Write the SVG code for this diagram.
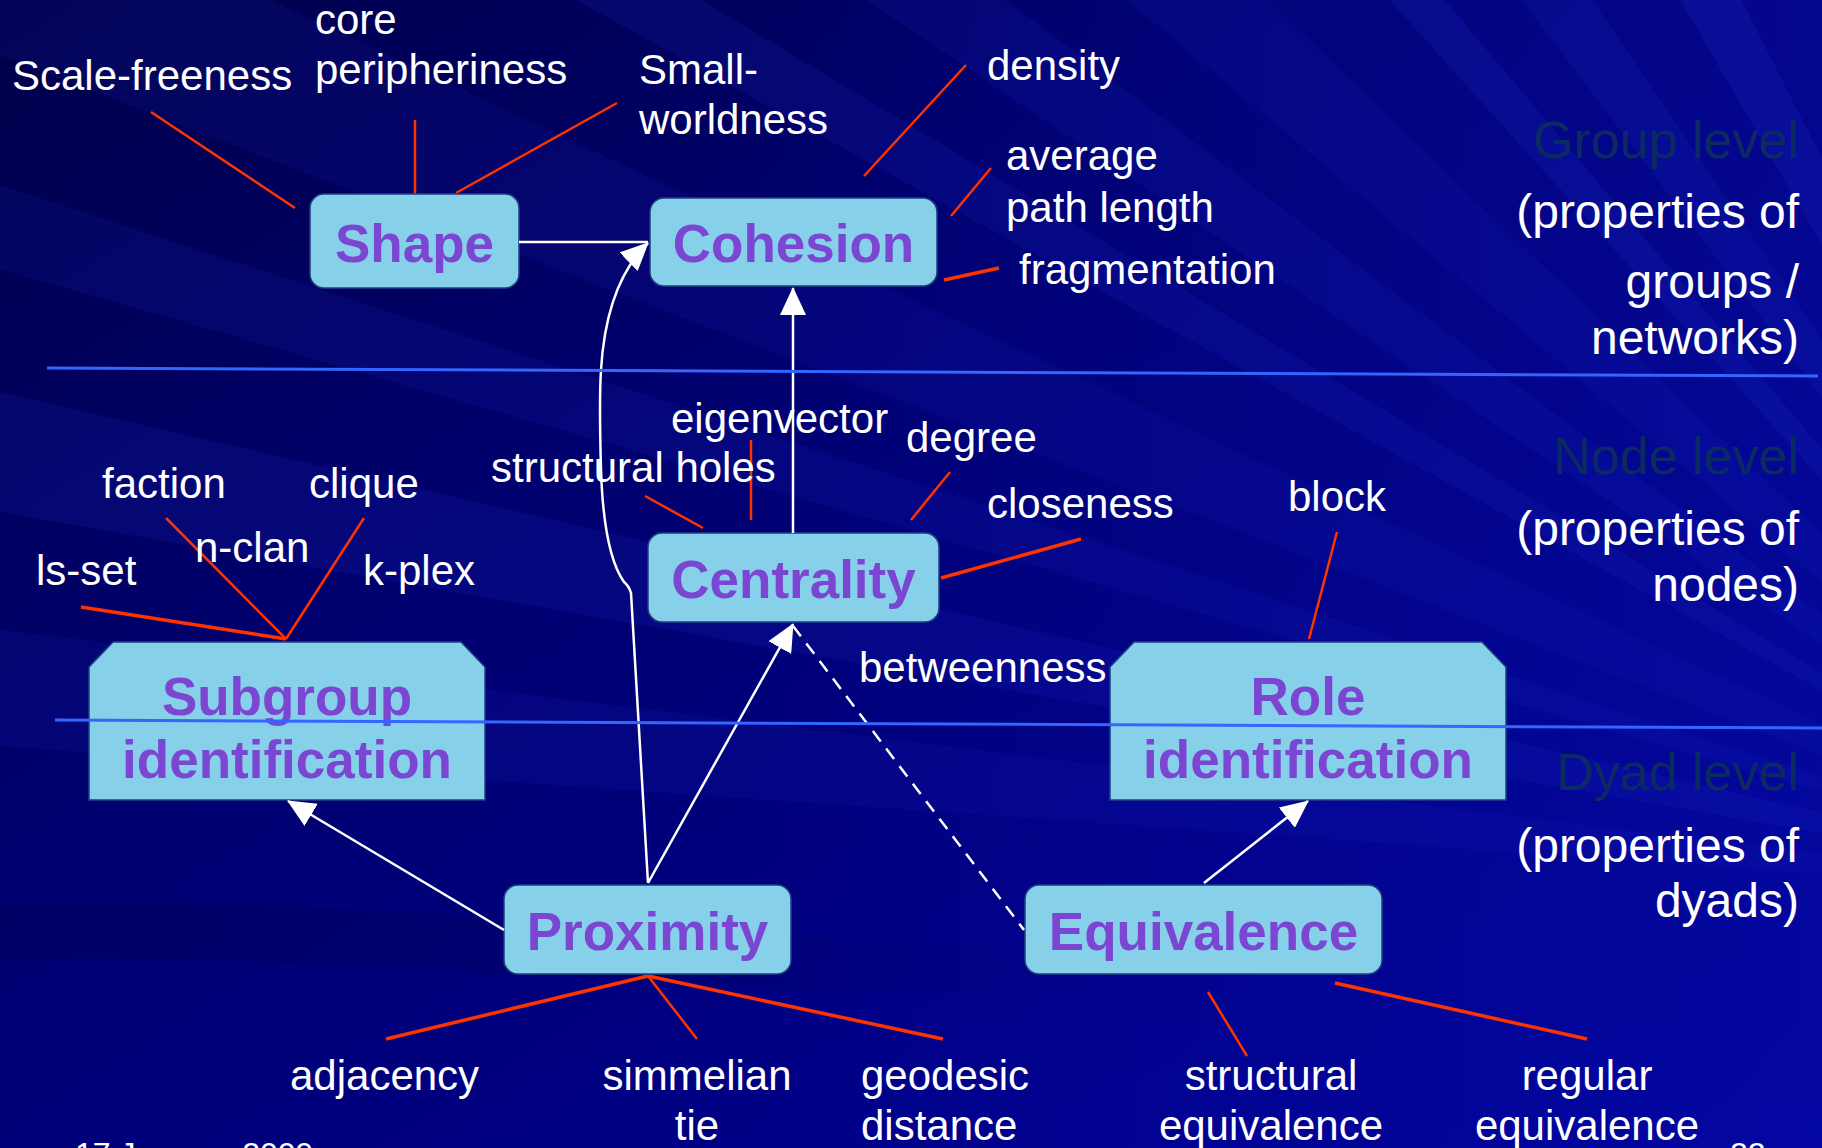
<svg xmlns="http://www.w3.org/2000/svg" width="1822" height="1148" viewBox="0 0 1822 1148">
  <defs>
    <linearGradient id="bgBase" x1="0" y1="0" x2="1" y2="1">
      <stop offset="0" stop-color="#00004a"/>
      <stop offset="0.35" stop-color="#00006e"/>
      <stop offset="0.7" stop-color="#000086"/>
      <stop offset="1" stop-color="#00009a"/>
    </linearGradient>
    <linearGradient id="bgRight" x1="0" y1="0" x2="1" y2="0">
      <stop offset="0.4" stop-color="#0a14b0" stop-opacity="0"/>
      <stop offset="1" stop-color="#0a14b0" stop-opacity="0.35"/>
    </linearGradient>
    <linearGradient id="bandFade" x1="0" y1="0" x2="1" y2="0">
      <stop offset="0" stop-color="#000058" stop-opacity="0.45"/>
      <stop offset="0.6" stop-color="#000058" stop-opacity="0.25"/>
      <stop offset="1" stop-color="#000058" stop-opacity="0"/>
    </linearGradient>
    <marker id="arrow" markerUnits="userSpaceOnUse" markerWidth="28" markerHeight="26" viewBox="0 0 28 26" refX="27" refY="13" orient="auto">
      <path d="M0,0 L28,13 L0,26 z" fill="#ffffff"/>
    </marker>
    <style>
      .box { fill: #87d0ea; stroke: #1f3f85; stroke-width: 1.5; }
      .node-text { font-family: "Liberation Sans", Arial, sans-serif; font-weight: bold; font-size: 53px; fill: #7a46d2; text-anchor: middle; }
      .lbl { font-family: "Liberation Sans", Arial, sans-serif; font-size: 42px; fill: #ffffff; }
      .mid { text-anchor: middle; }
      .lvl { font-family: "Liberation Sans", Arial, sans-serif; font-size: 48px; fill: #ffffff; text-anchor: end; }
      .lvl-title { font-family: "Liberation Sans", Arial, sans-serif; font-size: 52px; fill: #0c2a62; text-anchor: end; }
      .foot { font-family: "Liberation Sans", Arial, sans-serif; font-size: 32px; fill: #ffffff; }
      .tick { stroke: #ff3300; stroke-width: 2.5; fill: none; }
      .tick.thick { stroke-width: 3.5; }
      .link { stroke: #ffffff; stroke-width: 2.5; fill: none; }
      .dashed { stroke-dasharray: 13 9; }
      .divider { stroke: #3366ff; stroke-width: 3; }
      .ray { fill: #2535d8; }
    </style>
  </defs>

  <!-- background: navy gradient with a fan of soft rays from the lower right -->
  <rect width="1822" height="1148" fill="url(#bgBase)"/>
  <rect width="1822" height="1148" fill="url(#bgRight)"/>
  <g class="ray">
    <polygon points="2200,900 -793,691 -778,534" opacity="0.10"/>
    <polygon points="2200,900 -754,379 -723,225" opacity="0.14"/>
    <polygon points="2200,900 -684,73 -653,-27" opacity="0.12"/>
    <polygon points="2200,900 -601,-175 -519,-368" opacity="0.10"/>
    <polygon points="2200,900 -424,-554 -372,-645" opacity="0.14"/>
    <polygon points="2200,900 -287,-778 -196,-906" opacity="0.12"/>
    <polygon points="2200,900 -98,-1028 42,-1184" opacity="0.10"/>
    <polygon points="2200,900 193,-1329 272,-1398" opacity="0.16"/>
    <polygon points="2200,900 395,-1496 522,-1587" opacity="0.14"/>
    <polygon points="2200,900 700,-1698 838,-1773" opacity="0.16"/>
  </g>
  <path d="M0,905 C300,890 700,940 1100,950 L1100,1000 C700,995 300,950 0,960 z" fill="url(#bandFade)"/>

  <!-- level captions on the right -->
  <g id="levels">
    <text class="lvl-title" x="1799" y="158">Group level</text>
    <text class="lvl" x="1799" y="228">(properties of</text>
    <text class="lvl" x="1799" y="298">groups /</text>
    <text class="lvl" x="1799" y="354">networks)</text>
    <text class="lvl-title" x="1799" y="474">Node level</text>
    <text class="lvl" x="1799" y="545">(properties of</text>
    <text class="lvl" x="1799" y="601">nodes)</text>
    <text class="lvl-title" x="1799" y="790">Dyad level</text>
    <text class="lvl" x="1799" y="862">(properties of</text>
    <text class="lvl" x="1799" y="917">dyads)</text>
  </g>

  <!-- red ticks tying each measure to its concept -->
  <g id="measure-ticks">
    <line class="tick" x1="151" y1="112" x2="295" y2="208"/>
    <line class="tick" x1="415" y1="120" x2="415" y2="195"/>
    <line class="tick" x1="617" y1="103" x2="456" y2="193"/>
    <line class="tick" x1="966" y1="65" x2="864" y2="176"/>
    <line class="tick" x1="991" y1="168" x2="951" y2="216"/>
    <line class="tick thick" x1="999" y1="268" x2="944" y2="280"/>
    <line class="tick" x1="645" y1="496" x2="703" y2="528"/>
    <line class="tick" x1="751" y1="440" x2="751" y2="520"/>
    <line class="tick" x1="950" y1="472" x2="911" y2="520"/>
    <line class="tick thick" x1="1081" y1="539" x2="941" y2="578"/>
    <line class="tick" x1="1337" y1="532" x2="1309" y2="639"/>
    <line class="tick thick" x1="81" y1="607" x2="286" y2="639"/>
    <line class="tick" x1="166" y1="518" x2="286" y2="639"/>
    <line class="tick" x1="364" y1="518" x2="286" y2="639"/>
    <line class="tick thick" x1="386" y1="1039" x2="648" y2="976"/>
    <line class="tick" x1="697" y1="1039" x2="648" y2="976"/>
    <line class="tick thick" x1="943" y1="1039" x2="648" y2="976"/>
    <line class="tick" x1="1208" y1="992" x2="1247" y2="1056"/>
    <line class="tick thick" x1="1335" y1="983" x2="1587" y2="1039"/>
  </g>

  <!-- measure labels -->
  <g id="measures">
    <text class="lbl" x="12" y="90">Scale-freeness</text>
    <text class="lbl" x="315" y="34">core</text>
    <text class="lbl" x="315" y="84">peripheriness</text>
    <text class="lbl" x="639" y="84">Small-</text>
    <text class="lbl" x="639" y="134">worldness</text>
    <text class="lbl" x="987" y="80">density</text>
    <text class="lbl" x="1006" y="170">average</text>
    <text class="lbl" x="1006" y="222">path length</text>
    <text class="lbl" x="1019" y="284">fragmentation</text>
    <text class="lbl" x="671" y="433">eigenvector</text>
    <text class="lbl" x="491" y="482">structural holes</text>
    <text class="lbl" x="906" y="452">degree</text>
    <text class="lbl" x="987" y="518">closeness</text>
    <text class="lbl" x="859" y="682">betweenness</text>
    <text class="lbl" x="1288" y="511">block</text>
    <text class="lbl" x="102" y="498">faction</text>
    <text class="lbl" x="309" y="498">clique</text>
    <text class="lbl" x="195" y="562">n-clan</text>
    <text class="lbl" x="36" y="585">ls-set</text>
    <text class="lbl" x="363" y="585">k-plex</text>
    <text class="lbl" x="290" y="1090">adjacency</text>
    <text class="lbl mid" x="697" y="1090">simmelian</text>
    <text class="lbl mid" x="697" y="1140">tie</text>
    <text class="lbl" x="861" y="1090">geodesic</text>
    <text class="lbl" x="861" y="1140">distance</text>
    <text class="lbl mid" x="1271" y="1090">structural</text>
    <text class="lbl mid" x="1271" y="1140">equivalence</text>
    <text class="lbl mid" x="1587" y="1090">regular</text>
    <text class="lbl mid" x="1587" y="1140">equivalence</text>
  </g>

  <!-- concept nodes -->
  <g id="node-shape">
    <rect class="box" x="310" y="194" width="209" height="94" rx="14"/>
    <text class="node-text" x="414.5" y="262">Shape</text>
  </g>
  <g id="node-cohesion">
    <rect class="box" x="650" y="198" width="287" height="88" rx="14"/>
    <text class="node-text" x="793.5" y="262">Cohesion</text>
  </g>
  <g id="node-centrality">
    <rect class="box" x="648" y="533" width="291" height="89" rx="14"/>
    <text class="node-text" x="793.5" y="598">Centrality</text>
  </g>
  <g id="node-subgroup">
    <polygon class="box" points="89,667 113,642 461,642 485,667 485,800 89,800"/>
    <text class="node-text" x="287" y="715">Subgroup</text>
    <text class="node-text" x="287" y="778">identification</text>
  </g>
  <g id="node-role">
    <polygon class="box" points="1110,667 1134,642 1482,642 1506,667 1506,800 1110,800"/>
    <text class="node-text" x="1308" y="715">Role</text>
    <text class="node-text" x="1308" y="778">identification</text>
  </g>
  <g id="node-proximity">
    <rect class="box" x="504" y="885" width="287" height="89" rx="14"/>
    <text class="node-text" x="647.5" y="950">Proximity</text>
  </g>
  <g id="node-equivalence">
    <rect class="box" x="1025" y="885" width="357" height="89" rx="14"/>
    <text class="node-text" x="1203.5" y="950">Equivalence</text>
  </g>

  <!-- connectors between concepts -->
  <g id="connectors">
    <line class="link" x1="519" y1="242" x2="648" y2="242"/>
    <path class="link" d="M648,883 L631,593 Q629,586 624,582 C612,565 603,530 601,470 C600,430 599,400 601,370 C604,320 616,274 648,243" marker-end="url(#arrow)"/>
    <line class="link" x1="793" y1="533" x2="793" y2="288" marker-end="url(#arrow)"/>
    <line class="link" x1="648" y1="883" x2="793" y2="624" marker-end="url(#arrow)"/>
    <line class="link dashed" x1="793" y1="626" x2="1024" y2="930"/>
    <line class="link" x1="504" y1="930" x2="288" y2="801" marker-end="url(#arrow)"/>
    <line class="link" x1="1204" y1="883" x2="1308" y2="801" marker-end="url(#arrow)"/>
  </g>

  <!-- level dividers -->
  <g id="dividers">
    <line class="divider" x1="47" y1="368" x2="1818" y2="376"/>
    <line class="divider" x1="55" y1="720" x2="1822" y2="728"/>
  </g>

  <!-- footer -->
  <text class="foot" x="75" y="1165">17 January 2009</text>
  <text class="foot" x="1730" y="1165">22</text>
</svg>
